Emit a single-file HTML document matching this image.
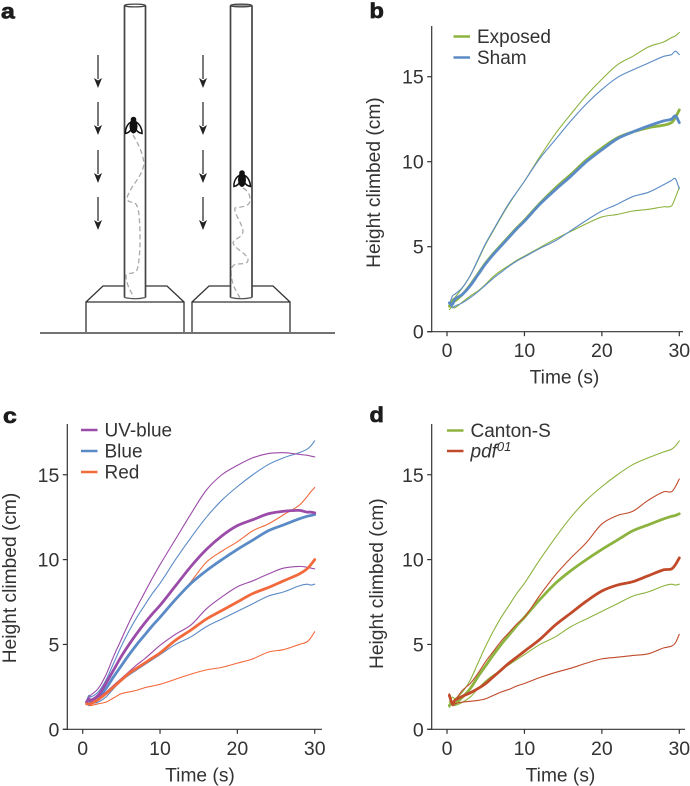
<!DOCTYPE html>
<html>
<head>
<meta charset="utf-8">
<style>
html,body{margin:0;padding:0;background:#fff;width:690px;height:786px;overflow:hidden}
svg{display:block}
text{font-family:"Liberation Sans",sans-serif;fill:#333}
.tick{font-size:19.5px}
.title{font-size:19.2px}
.leg{font-size:19px}
.panel{font-size:21px;font-weight:bold;fill:#1c1c1c;stroke:#1c1c1c;stroke-width:.7px}
</style>
</head>
<body>
<svg id="fig" width="690" height="786" viewBox="0 0 690 786" xmlns="http://www.w3.org/2000/svg">
  <g id="diagram" fill="none" stroke="#333" stroke-width="1.3">
    <line x1="40" y1="333" x2="335" y2="333" stroke-width="1.4" stroke="#444"/>
    <path d="M86 332V302H184V332M86 302L103 286H124.5M145.5 286H167L184 302"/>
    <path d="M192 332V302H290V332M192 302L209 286H230.5M252 286H273L290 302"/>
    <path stroke="#aaa" stroke-width="1.3" stroke-dasharray="5 3" d="M133 135C137 142 142 150 144 163C143 175 133 184 130 191C126 198 126 201 131 202C137 202 138 207 139 215C141 235 140 262 137 270C134 275 128 272 126 275C126 283 130 291 134 297"/>
    <path stroke="#aaa" stroke-width="1.3" stroke-dasharray="5 3" d="M243 188C247 190 250 194 250 199C251 207 240 207 235 208C233 212 243 225 243 231C243 238 234 238 233 243C236 250 248 254 248 260C248 266 236 262 233 266C229 270 232 280 233 284C235 290 238 294 240 298"/>
    <g>
      <path d="M124.5 5.5V297.5M145.5 5.5V297.5" stroke-width="1.7" stroke="#444"/>
      <ellipse cx="135" cy="5.5" rx="10.5" ry="1.4" stroke="#444"/>
      <path d="M124.5 297.5Q135 300 145.5 297.5" stroke="#555"/>
    </g>
    <g>
      <path d="M230.5 5.5V297.5M252 5.5V297.5" stroke-width="1.7" stroke="#444"/>
      <ellipse cx="241.2" cy="5.5" rx="10.7" ry="1.4" stroke="#444" fill="#999"/>
      <path d="M230.5 297.5Q241 300 252 297.5" stroke="#555"/>
    </g>
    <g>
      <ellipse cx="133.5" cy="126" rx="4" ry="7.5" fill="#111" stroke="none"/>
      <circle cx="133.5" cy="119.5" r="2.8" fill="#111" stroke="none"/>
      <path d="M131 122C127 124 125 130 125.5 133.5C128 133 130.5 131 132 128M136 122C140 124 142.5 130 142 133.5C139 133 136.5 131 135 128" stroke="#111" stroke-width="1.5"/>
    </g>
    <g>
      <ellipse cx="242" cy="179.5" rx="4" ry="7.5" fill="#111" stroke="none"/>
      <circle cx="242" cy="173" r="2.8" fill="#111" stroke="none"/>
      <path d="M239.5 175.5C235.5 177 233.5 183 234 186.5C236.5 186 239 184 240.5 181M244.5 175.5C248.5 177 250.5 183 250.5 186.5C247.5 186 245 184 243.5 181" stroke="#111" stroke-width="1.5"/>
    </g>
    <g id="arrows"></g>
  </g>
  <text class="panel" transform="translate(1 18.5) scale(1.18 1)">a</text>
  <text class="panel" transform="translate(369.5 18) scale(1.12 1)">b</text>
  <text class="panel" transform="translate(3 423) scale(1.18 1)">c</text>
  <text class="panel" transform="translate(369.5 422) scale(1.12 1)">d</text>
</svg>
<script>
var xTicks = [0, 10, 20, 30];
var yTicks = [0, 5, 10, 15];

var timesB = [0.3,0.7,1,2,3,4,5,6,7,8,9,10,12,14,16,18,20,22,24,26,28,29,29.5,30];
var exposedHi = [1.5,1.9,2.0,2.6,3.3,4.2,5.15,5.95,6.75,7.5,8.2,8.85,10.3,11.65,12.8,13.9,14.85,15.7,16.2,16.75,17.05,17.3,17.4,17.6];
var exposedMean = [1.5,1.8,1.8,2.2,2.75,3.4,4.05,4.6,5.1,5.6,6.1,6.55,7.55,8.45,9.25,10.1,10.8,11.4,11.75,12.0,12.15,12.3,12.6,13.05];
var exposedLo = [1.3,1.5,1.4,1.75,2.1,2.4,2.8,3.25,3.6,3.9,4.2,4.45,4.95,5.45,5.9,6.35,6.75,6.9,7.1,7.2,7.35,7.4,7.9,8.5];
var shamHi = [1.6,2.1,2.2,2.6,3.3,4.25,5.2,6.0,6.8,7.55,8.2,8.85,10.2,11.3,12.4,13.4,14.25,14.95,15.4,15.8,16.2,16.3,16.5,16.3];
var shamMean = [1.7,1.6,1.9,2.2,2.7,3.35,4.0,4.55,5.05,5.55,6.05,6.5,7.5,8.35,9.15,10.0,10.7,11.35,11.75,12.1,12.4,12.5,12.7,12.3];
var shamLo = [1.7,1.4,1.5,1.7,2.0,2.35,2.75,3.15,3.5,3.85,4.15,4.4,4.9,5.35,5.95,6.55,7.1,7.5,7.95,8.2,8.65,8.9,9.0,8.4];

var timesC = [0.5,0.8,1,2,3,4,5,6,7,8,9,10,12,14,16,18,20,22,24,26,28,29,29.5,30];
var uvHi = [1.6,1.9,2.0,2.4,3.2,4.3,5.3,6.3,7.2,8.05,8.9,9.7,11.2,12.7,14.1,15.0,15.55,16.0,16.25,16.3,16.2,16.15,16.1,16.05];
var uvMean = [1.6,1.8,1.7,2.0,2.7,3.5,4.3,5.0,5.65,6.25,6.8,7.3,8.45,9.6,10.6,11.4,12.0,12.35,12.7,12.85,12.9,12.8,12.8,12.75];
var uvLo = [1.5,1.5,1.6,1.9,2.2,2.6,3.0,3.4,3.8,4.15,4.55,4.95,5.6,6.15,7.1,7.8,8.4,8.75,9.15,9.5,9.6,9.55,9.5,9.45];
var blueHi = [1.7,2.0,1.9,2.2,2.9,3.9,4.9,5.8,6.6,7.3,8.0,8.6,10.0,11.3,12.5,13.5,14.3,15.0,15.6,16.0,16.3,16.5,16.7,17.0];
var blueMean = [1.6,1.7,1.6,1.9,2.4,3.1,3.75,4.4,5.0,5.55,6.1,6.6,7.65,8.6,9.35,10.0,10.6,11.15,11.7,12.05,12.4,12.55,12.6,12.65];
var blueLo = [1.5,1.4,1.5,1.6,1.9,2.4,2.85,3.2,3.5,3.8,4.1,4.4,5.0,5.45,6.05,6.5,6.95,7.4,7.85,8.1,8.45,8.55,8.5,8.55];
var redHi = [1.5,1.5,1.6,1.9,2.4,3.1,3.8,4.4,5.0,5.6,6.1,6.6,7.6,8.7,9.85,10.5,11.05,11.7,12.1,12.65,13.2,13.7,14.0,14.25];
var redMean = [1.5,1.5,1.5,1.75,2.1,2.5,2.9,3.3,3.6,3.9,4.2,4.5,5.25,5.85,6.5,7.0,7.5,8.0,8.35,8.75,9.15,9.45,9.7,10.0];
var redLo = [1.5,1.4,1.4,1.5,1.6,1.85,2.1,2.2,2.3,2.45,2.55,2.65,2.95,3.25,3.5,3.65,3.9,4.15,4.55,4.7,5.0,5.15,5.4,5.75];

var timesD = [0.3,0.7,1,2,3,4,5,6,7,8,9,10,12,14,16,18,20,22,24,26,28,29,29.5,30];
var cantonHi = [1.6,1.9,1.8,2.2,2.9,3.9,4.9,5.8,6.6,7.3,8.0,8.6,10.0,11.3,12.5,13.5,14.3,15.0,15.6,16.0,16.35,16.5,16.7,17.0];
var cantonMean = [1.4,1.6,1.5,1.9,2.4,3.1,3.75,4.4,5.0,5.55,6.1,6.6,7.65,8.6,9.35,10.0,10.6,11.15,11.7,12.05,12.4,12.55,12.6,12.7];
var cantonLo = [1.3,1.5,1.4,1.6,1.9,2.4,2.85,3.2,3.5,3.8,4.1,4.4,5.0,5.45,6.05,6.5,6.95,7.4,7.85,8.1,8.45,8.55,8.5,8.55];
var pdfHi = [2.1,1.6,1.7,2.3,2.7,3.3,4.0,4.6,5.2,5.7,6.2,6.6,7.9,9.1,10.1,11.0,12.1,12.6,12.85,13.5,14.0,14.0,14.3,14.75];
var pdfMean = [2.0,1.5,1.7,1.95,2.15,2.4,2.7,3.1,3.5,3.9,4.25,4.6,5.3,6.15,6.85,7.55,8.15,8.5,8.7,9.05,9.4,9.45,9.7,10.1];
var pdfLo = [1.9,1.4,1.5,1.6,1.65,1.7,1.8,2.0,2.2,2.35,2.55,2.7,3.05,3.35,3.6,3.9,4.15,4.25,4.35,4.45,4.8,4.9,5.1,5.6];

var arrowColumns = [98, 203];
var arrowTops = [55, 102, 150, 197];

var SVGNS = 'http://www.w3.org/2000/svg';
var fig = document.getElementById('fig');

function make(tag, attrs, parent) {
  var el = document.createElementNS(SVGNS, tag);
  for (var k in attrs) el.setAttribute(k, attrs[k]);
  parent.appendChild(el);
  return el;
}

function smoothPath(pts) {
  var d = 'M' + pts[0][0].toFixed(2) + ' ' + pts[0][1].toFixed(2);
  for (var i = 0; i < pts.length - 1; i++) {
    var p0 = pts[Math.max(0, i - 1)], p1 = pts[i], p2 = pts[i + 1], p3 = pts[Math.min(pts.length - 1, i + 2)];
    var h = p2[0] - p1[0];
    var m1 = (p2[1] - p0[1]) / (p2[0] - p0[0]);
    var m2 = (p3[1] - p1[1]) / (p3[0] - p1[0]);
    var c1x = p1[0] + h / 3, c1y = p1[1] + m1 * h / 3;
    var c2x = p2[0] - h / 3, c2y = p2[1] - m2 * h / 3;
    d += 'C' + c1x.toFixed(2) + ' ' + c1y.toFixed(2) + ' ' + c2x.toFixed(2) + ' ' + c2y.toFixed(2) + ' ' + p2[0].toFixed(2) + ' ' + p2[1].toFixed(2);
  }
  return d;
}

function drawPanel(cfg) {
  var g = make('g', {}, fig);
  
  
  var xScale = function (v) { return cfg.x0 + (cfg.x30 - cfg.x0) * v / 30; };
  var yScale = function (v) { return cfg.y0 - cfg.unit * v; };

  var yAxis = make('line', { x1: cfg.axisX, x2: cfg.axisX, y1: cfg.axisTop, y2: cfg.y0 + 0.6, stroke: '#333', 'stroke-width': 1.2 }, g);
  
  
  var xAxis = make('line', { x1: cfg.axisX - 4.5, x2: cfg.axisRight, y1: cfg.y0, y2: cfg.y0, stroke: '#333', 'stroke-width': 1.2 }, g);
  
  

  xTicks.forEach(function (t) {
    var mark = make('line', { x1: xScale(t), x2: xScale(t), y1: cfg.y0, y2: cfg.y0 + 4.5, stroke: '#333', 'stroke-width': 1.2 }, g);
    
    
    var label = make('text', { x: xScale(t), y: cfg.y0 + 25.5, 'text-anchor': 'middle', 'class': 'tick' }, g);
    
    
    label.textContent = t;
  });
  yTicks.forEach(function (t) {
    var mark = make('line', { x1: cfg.axisX - 4.5, x2: cfg.axisX, y1: yScale(t), y2: yScale(t), stroke: '#333', 'stroke-width': 1.2 }, g);
    
    
    var label = make('text', { x: cfg.axisX - 8, y: yScale(t) + 7, 'text-anchor': 'end', 'class': 'tick' }, g);
    
    
    label.textContent = t;
  });

  var xt = make('text', { x: cfg.xTitleX, y: cfg.y0 + 52, 'text-anchor': 'middle', 'class': 'title' }, g);
  
  
  xt.textContent = 'Time (s)';
  var yt = make('text', { transform: 'translate(' + cfg.yTitleX + ' ' + cfg.yTitleY + ') rotate(-90)', 'text-anchor': 'middle', 'class': 'title' }, g);
  
  
  yt.textContent = 'Height climbed (cm)';

  cfg.series.forEach(function (s) {
    var pts = s.values.map(function (v, i) { return [xScale(cfg.times[i]), yScale(v)]; });
    var p = make('path', { d: smoothPath(pts), fill: 'none', stroke: s.color, 'stroke-width': s.width, 'stroke-linejoin': 'round', 'stroke-linecap': 'round' }, g);
    
    
  });

  cfg.legend.forEach(function (l, i) {
    var ly = cfg.legendY + i * cfg.legendGap;
    var sw = make('line', { x1: cfg.legendX, x2: cfg.legendX + 16.5, y1: ly, y2: ly, stroke: l.color, 'stroke-width': 2.6 }, g);
    
    
    var tx = make('text', { x: cfg.legendX + 23.5, y: ly + 6.5, 'class': 'leg' }, g);
    
    
    if (l.italic) {
      var a = make('tspan', { 'font-style': 'italic' }, tx);
      a.textContent = l.label;
      var b = make('tspan', { 'font-style': 'italic', 'font-size': '13px', dy: '-6.5' }, tx);
      b.textContent = l.sup;
    } else {
      tx.textContent = l.label;
    }
  });
}

var GREEN = '#8db33f', BLUE = '#5b8bc6', PURPLE = '#9b4ba8', ORANGE = '#f26a3c', BROWN = '#c04a2a';

drawPanel({
  name: 'chart-b', times: timesB, x0: 447, x30: 679.3, y0: 331.7, unit: 17, axisX: 431.7, axisTop: 26, axisRight: 683,
  xTitleX: 564.5, yTitleX: 380, yTitleY: 182.6, legendX: 453.5, legendY: 36.5, legendGap: 21,
  series: [
    { name: 'exposed-upper-line', values: exposedHi, color: GREEN, width: 1.1 },
    { name: 'exposed-lower-line', values: exposedLo, color: GREEN, width: 1.1 },
    { name: 'exposed-mean-line', values: exposedMean, color: GREEN, width: 2.8 },
    { name: 'sham-upper-line', values: shamHi, color: BLUE, width: 1.1 },
    { name: 'sham-lower-line', values: shamLo, color: BLUE, width: 1.1 },
    { name: 'sham-mean-line', values: shamMean, color: BLUE, width: 2.8 }
  ],
  legend: [
    { label: 'Exposed', color: GREEN },
    { label: 'Sham', color: BLUE }
  ]
});

drawPanel({
  name: 'chart-c', times: timesC, x0: 82.7, x30: 314.7, y0: 729.3, unit: 16.97, axisX: 67.3, axisTop: 424, axisRight: 322,
  xTitleX: 200, yTitleX: 16, yTitleY: 578, legendX: 81, legendY: 430, legendGap: 21,
  series: [
    { name: 'red-upper-line', values: redHi, color: ORANGE, width: 1.1 },
    { name: 'red-lower-line', values: redLo, color: ORANGE, width: 1.1 },
    { name: 'blue-upper-line', values: blueHi, color: BLUE, width: 1.1 },
    { name: 'blue-lower-line', values: blueLo, color: BLUE, width: 1.1 },
    { name: 'blue-mean-line', values: blueMean, color: BLUE, width: 2.8 },
    { name: 'uv-blue-upper-line', values: uvHi, color: PURPLE, width: 1.1 },
    { name: 'uv-blue-lower-line', values: uvLo, color: PURPLE, width: 1.1 },
    { name: 'uv-blue-mean-line', values: uvMean, color: PURPLE, width: 2.8 },
    { name: 'red-mean-line', values: redMean, color: ORANGE, width: 2.8 }
  ],
  legend: [
    { label: 'UV-blue', color: PURPLE },
    { label: 'Blue', color: BLUE },
    { label: 'Red', color: ORANGE }
  ]
});

drawPanel({
  name: 'chart-d', times: timesD, x0: 447, x30: 679.3, y0: 729.3, unit: 16.97, axisX: 431.7, axisTop: 424, axisRight: 685,
  xTitleX: 560.5, yTitleX: 383, yTitleY: 583.7, legendX: 447, legendY: 430.5, legendGap: 20.5,
  series: [
    { name: 'canton-s-upper-line', values: cantonHi, color: GREEN, width: 1.1 },
    { name: 'canton-s-lower-line', values: cantonLo, color: GREEN, width: 1.1 },
    { name: 'canton-s-mean-line', values: cantonMean, color: GREEN, width: 2.8 },
    { name: 'pdf01-upper-line', values: pdfHi, color: BROWN, width: 1.1 },
    { name: 'pdf01-lower-line', values: pdfLo, color: BROWN, width: 1.1 },
    { name: 'pdf01-mean-line', values: pdfMean, color: BROWN, width: 2.8 }
  ],
  legend: [
    { label: 'Canton-S', color: GREEN },
    { label: 'pdf', sup: '01', italic: true, color: BROWN }
  ]
});

var arrowsGroup = document.getElementById('arrows');
arrowColumns.forEach(function (x) {
  arrowTops.forEach(function (top) {
    var shaft = make('line', { x1: x, x2: x, y1: top, y2: top + 24, stroke: '#333', 'stroke-width': 1.3 }, arrowsGroup);
    
    
    var head = make('path', { d: 'M' + (x - 4) + ' ' + (top + 23) + 'L' + x + ' ' + (top + 33) + 'L' + (x + 4) + ' ' + (top + 23) + 'L' + x + ' ' + (top + 25.5) + 'Z', fill: '#222', stroke: 'none' }, arrowsGroup);
    
    
  });
});
</script>
</body>
</html>
